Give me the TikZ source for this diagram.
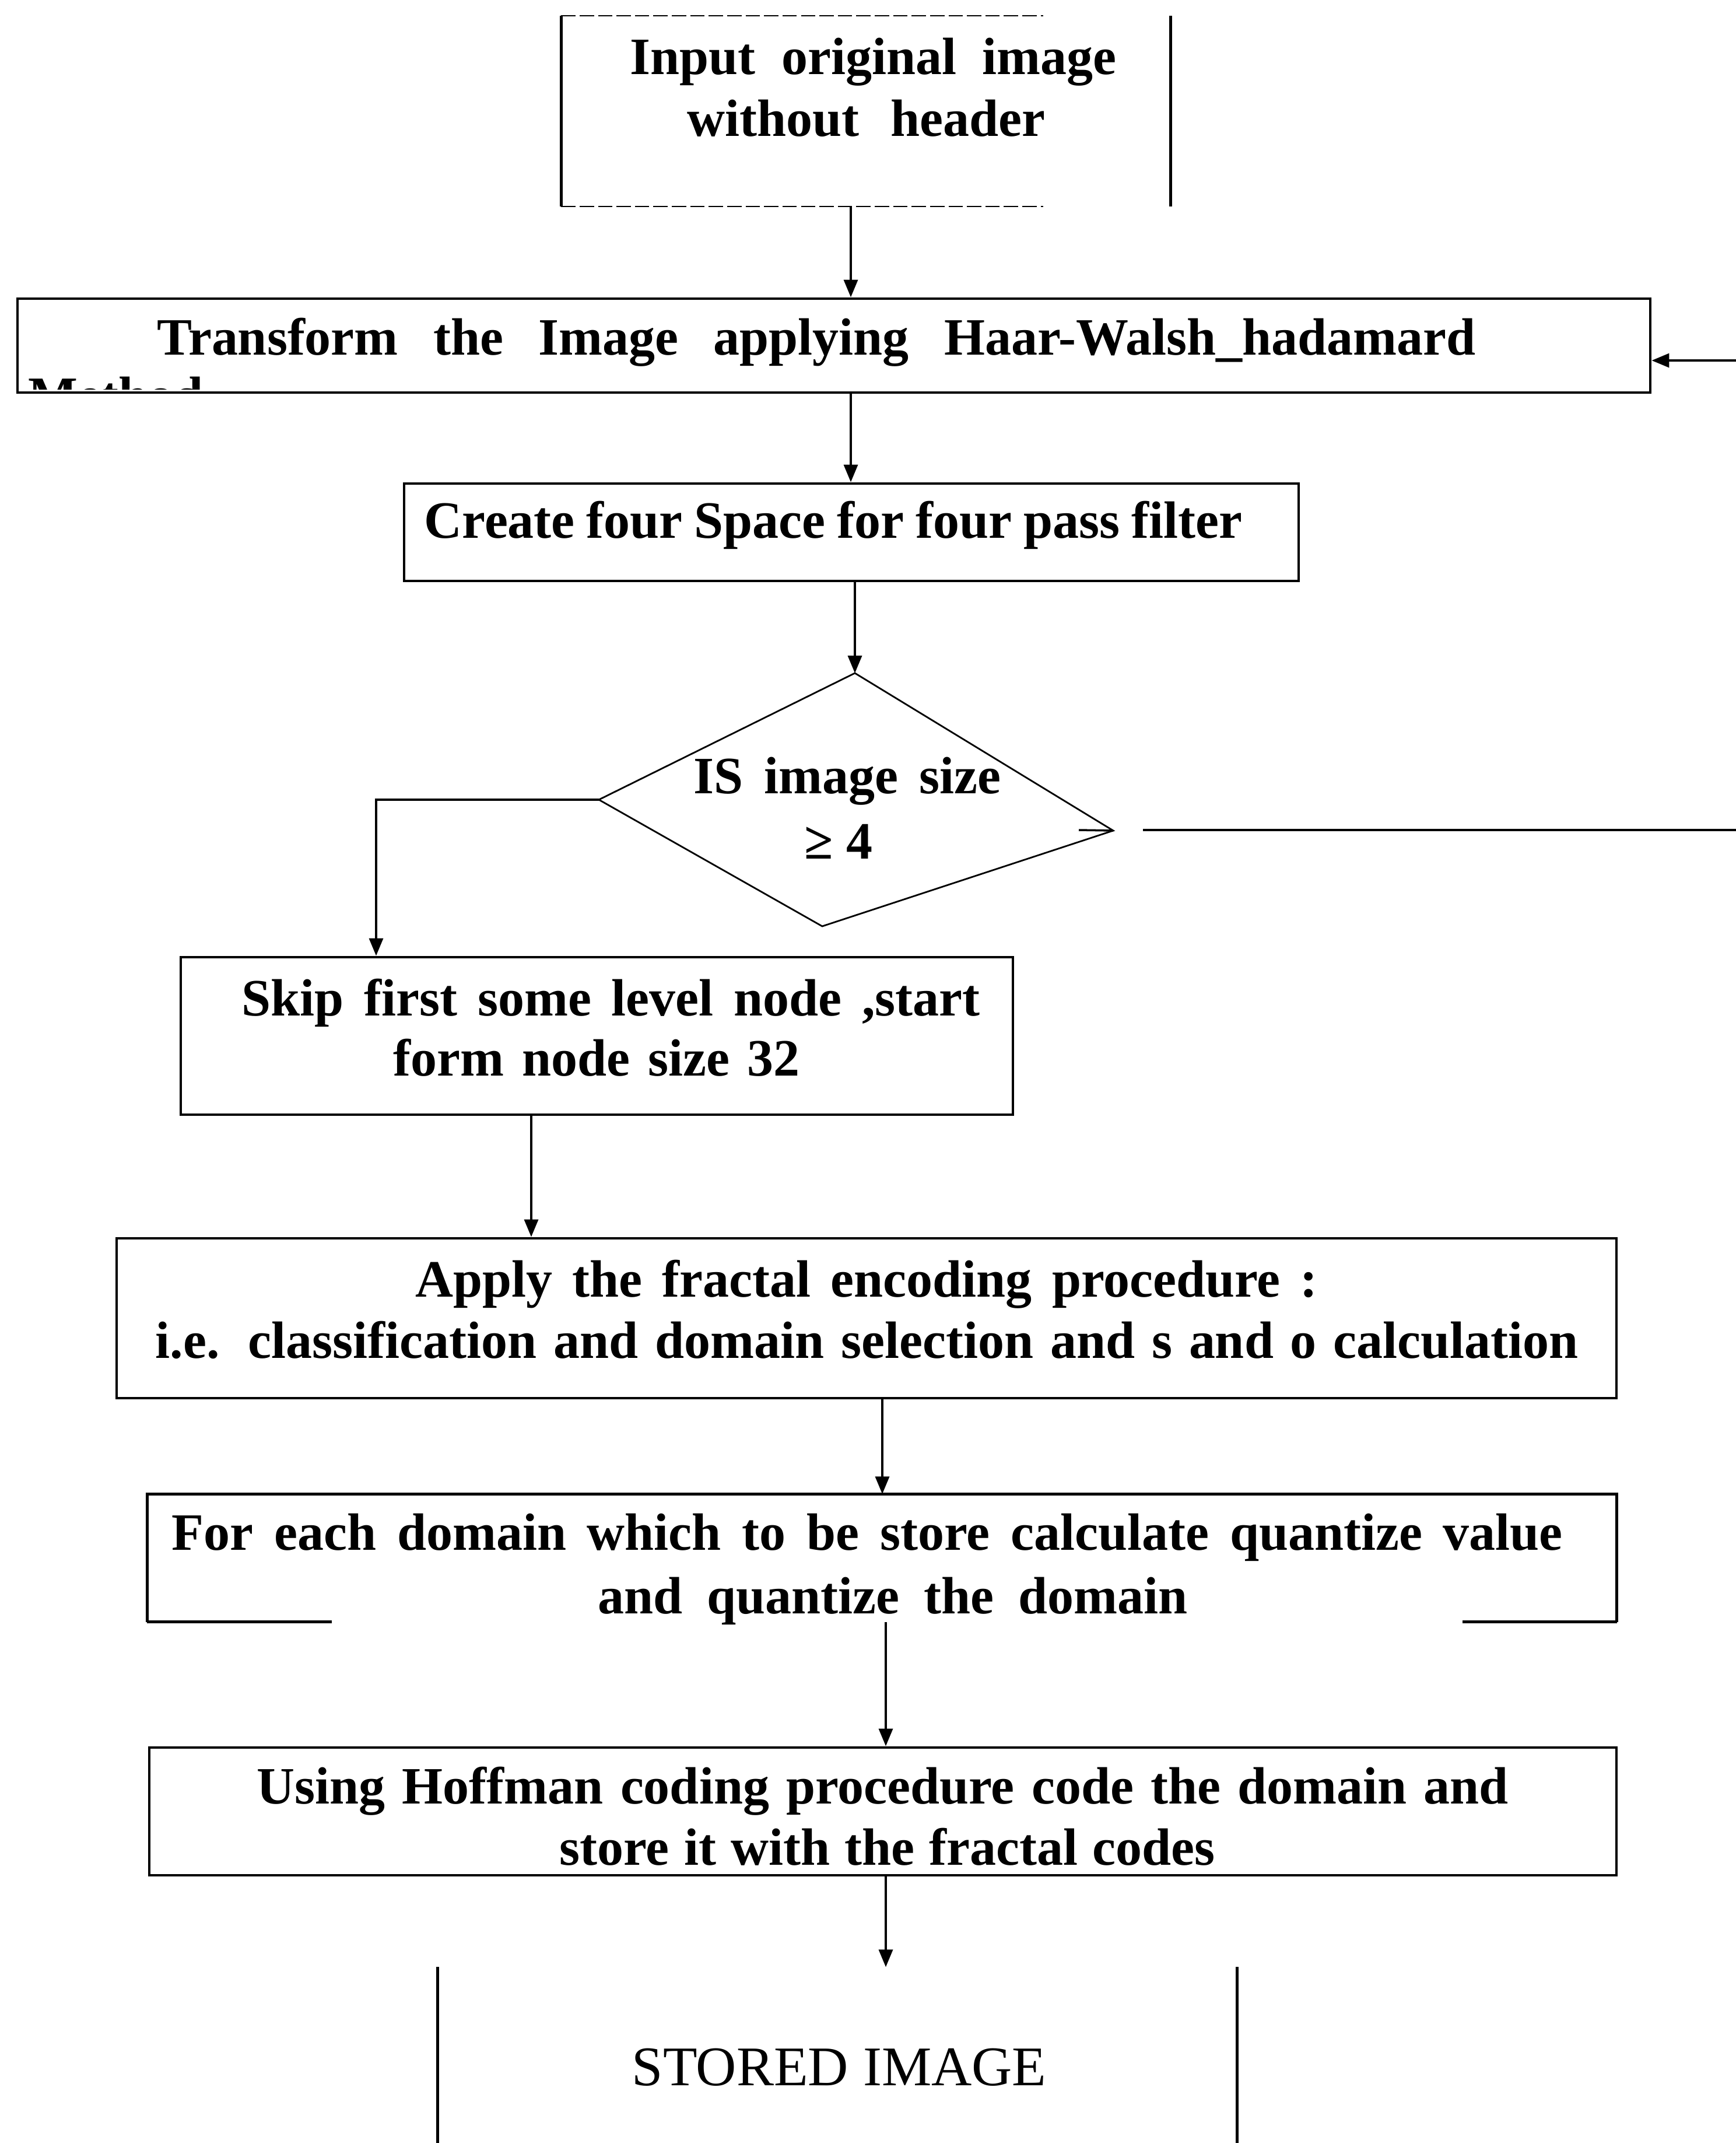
\documentclass[tikz,border=0pt]{standalone}
\usepackage{fontspec}
\setmainfont{Liberation Serif}
\usetikzlibrary{arrows.meta}
\begin{document}
\begin{tikzpicture}[
  boxline/.style={line width=1.4pt},
  faint/.style={line width=0.6pt,dash pattern=on 7pt off 2pt},
  arr/.style={line width=1.0pt,-{Triangle[length=0.30cm,width=0.24cm]}},
  conn/.style={line width=1.0pt},
  thinconn/.style={line width=0.8pt},
  txt/.style={anchor=base west,inner sep=0pt,font=\fontsize{25.6}{30}\selectfont\bfseries},
  plaintxt/.style={anchor=base west,inner sep=0pt,font=\fontsize{27.3}{32}\selectfont},
  boxnode/.style={rectangle,inner sep=0pt,draw,line width=1.4pt},
  ghost/.style={rectangle,inner sep=0pt,draw=none},
]
\useasboundingbox[fill=white] (0,0) rectangle (29.77,-36.74);

% boxes
\node[ghost, minimum width=10.44cm, minimum height=3.25cm] (b1) at (14.85,-1.905) {};
\draw[boxline] (b1.north west) -- (b1.south west);
\draw[boxline] (b1.north east) -- (b1.south east);
\draw[faint] (b1.north west) -- ++(8.27,0);
\draw[faint] (b1.south west) -- ++(8.27,0);

\node[boxnode, minimum width=28.00cm, minimum height=1.61cm] (b2) at (14.30,-5.925) {};
\node[boxnode, minimum width=15.34cm, minimum height=1.67cm] (b3) at (14.60,-9.125) {};
\node[boxnode, minimum width=14.27cm, minimum height=2.70cm] (b4) at (10.235,-17.76) {};
\node[boxnode, minimum width=25.72cm, minimum height=2.74cm] (b5) at (14.86,-22.60) {};

\node[ghost, minimum width=25.19cm, minimum height=2.18cm] (b6) at (15.125,-26.71) {};
\draw[boxline] (b6.south west) -- (b6.north west) -- (b6.north east) -- (b6.south east);
\draw[boxline] (b6.south west) -- ++(3.17,0);
\draw[boxline] (b6.south east) -- ++(-2.65,0);

\node[boxnode, minimum width=25.16cm, minimum height=2.19cm] (b7) at (15.14,-31.055) {};

\node[ghost, minimum width=13.70cm, minimum height=3.01cm] (b8) at (14.36,-35.235) {};
\draw[boxline] (b8.north west) -- (b8.south west);
\draw[boxline] (b8.north east) -- (b8.south east);

% decision diamond
\coordinate (dT) at (14.66,-11.54);
\coordinate (dL) at (10.27,-13.71);
\coordinate (dR) at (19.09,-14.24);
\coordinate (dB) at (14.10,-15.88);
\draw[thinconn] (dT) -- (dR) -- (dB) -- (dL) -- cycle;

% texts
\node[txt] (t1a) at (10.80,-1.27) {\makebox[8.34cm][s]{Input original image}};
\node[txt] (t1b) at (11.78,-2.33) {\makebox[6.14cm][s]{without header}};
\node[txt] (t2) at (2.69,-6.08) {\makebox[22.61cm][s]{Transform the Image applying Haar-Walsh\_hadamard}};
\begin{scope}
  \clip (0.40,-6.30) rectangle (6.00,-6.67);
  \node[txt] (t2m) at (0.48,-7.08) {Method};
\end{scope}
\node[txt] (t3) at (7.27,-9.22) {\makebox[14.03cm][s]{Create four Space for four pass filter}};
\node[txt] (td1) at (11.89,-13.60) {\makebox[5.27cm][s]{IS image size}};
\node[txt] (td2) at (13.79,-14.72) {\makebox[1.17cm][s]{≥ 4}};
\node[txt] (t4a) at (4.14,-17.41) {\makebox[12.66cm][s]{Skip first some level node ,start}};
\node[txt] (t4b) at (6.74,-18.44) {\makebox[6.97cm][s]{form node size 32}};
\node[txt] (t5a) at (7.12,-22.23) {\makebox[15.47cm][s]{Apply the fractal encoding procedure :}};
\node[txt] (t5b) at (2.66,-23.28) {\makebox[24.40cm][s]{i.e. classification and domain selection and s and o calculation}};
\node[txt] (t6a) at (2.94,-26.57) {\makebox[23.85cm][s]{For each domain which to be store calculate quantize value}};
\node[txt] (t6b) at (10.25,-27.66) {\makebox[10.11cm][s]{and quantize the domain}};
\node[txt] (t7a) at (4.40,-30.92) {\makebox[21.46cm][s]{Using Hoffman coding procedure code the domain and}};
\node[txt] (t7b) at (9.59,-31.97) {\makebox[11.24cm][s]{store it with the fractal codes}};
\node[plaintxt] (t8) at (10.83,-35.75) {\makebox[7.11cm][s]{STORED IMAGE}};

% connectors
\coordinate (x1) at (14.59,0);
\coordinate (x5) at (9.11,0);
\coordinate (x6) at (15.13,0);
\coordinate (x7) at (15.19,0);
\draw[arr] (b1.south -| x1) -- (b2.north -| x1);
\draw[arr] (b2.south -| x1) -- (b3.north -| x1);
\draw[arr] (b3.south -| dT) -- (dT);
\coordinate (cL) at (6.45,-13.71);
\draw[arr] (dL) -- (cL) -- (b4.north -| cL);
\draw[arr] (b4.south -| x5) -- (b5.north -| x5);
\draw[arr] (b5.south -| x6) -- (b6.north -| x6);
\draw[arr] (b6.south -| x7) -- (b7.north -| x7);
\draw[arr] (b7.south -| x7) -- (b8.north -| x7);

% loop back (runs off the page)
\coordinate (rStub) at (18.50,-14.23);
\coordinate (rS) at (19.60,-14.23);
\coordinate (rE) at (29.77,-14.23);
\coordinate (rIn) at (29.77,-6.18);
\draw[conn] (rStub) -- (dR);
\draw[conn] (rS) -- (rE);
\draw[arr] (rIn) -- (b2.east |- rIn);
\end{tikzpicture}
\end{document}
